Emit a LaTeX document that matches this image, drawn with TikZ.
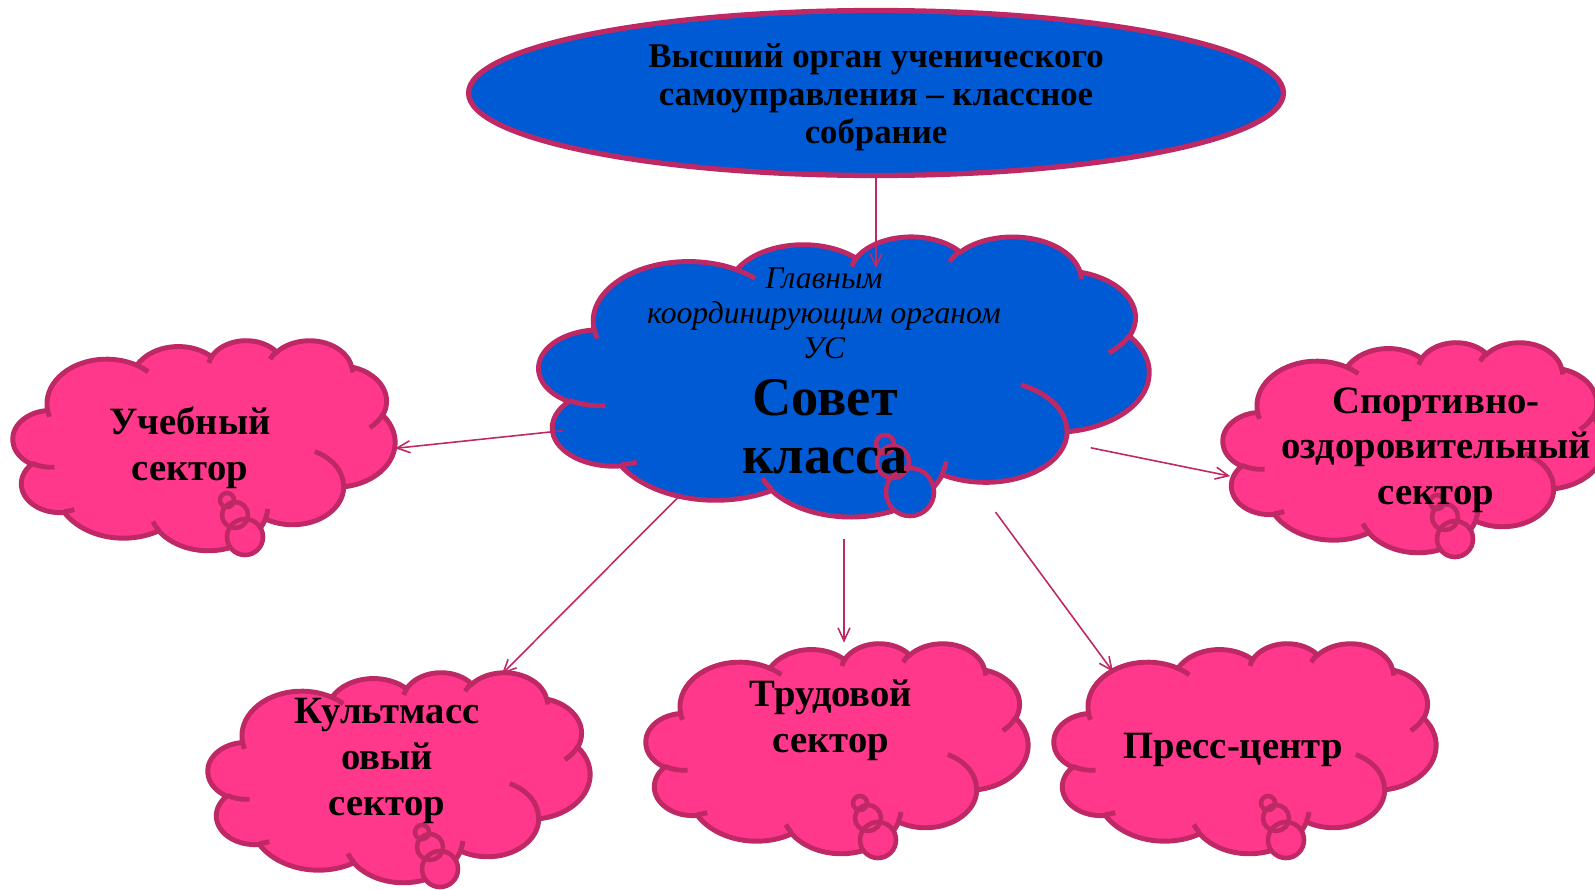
\documentclass[tikz,border=0pt]{standalone}
\usepackage{fontspec}
\setmainfont{Liberation Serif}
\usetikzlibrary{arrows.meta,positioning,calc,shapes.geometric}

\definecolor{boardblue}{RGB}{0,90,212}
\definecolor{rimred}{RGB}{190,40,100}
\definecolor{sectorpink}{RGB}{255,56,140}

% one lobe of the cloud: x radius, y radius, start and sweep (visual angles)
\newcommand{\lobe}[4]{arc[x radius=#1, y radius=#2,
    start angle={atan2(#1*sin(#3), #2*cos(#3))},
    delta angle={mod(atan2(#1*sin(#3+#4), #2*cos(#3+#4))-atan2(#1*sin(#3), #2*cos(#3))+720, 360)}]}

% cloud outline round node #1, width #2, height #3 (px), fill #4
\newcommand{\puffcloud}[4]{%
  \begin{scope}[shift={(#1.center)}, xscale=#2/43.2, yscale=#3/43.2, shift={(-21.6,-21.6)}]
    \filldraw[cloudrim, fill=#4] (3.900,14.370)
        \lobe{6.753}{9.190}{-190.487}{123.781}
        \lobe{5.333}{7.267}{-144.102}{89.945}
        \lobe{4.365}{5.945}{-145.808}{99.723}
        \lobe{4.857}{6.595}{-130.986}{117.242}
        \lobe{5.333}{7.273}{-78.709}{109.027}
        \lobe{6.775}{9.220}{-46.267}{130.269}
        \lobe{5.785}{7.867}{0.625}{114.033}
        \lobe{6.752}{9.215}{22.452}{115.173}
        \lobe{7.720}{10.543}{66.243}{75.711}
        \lobe{4.360}{5.918}{-274.942}{146.736}
        \lobe{4.345}{5.945}{-246.829}{152.519}
        -- cycle;
  \end{scope}}

% inner creases of the same cloud
\newcommand{\puffcreases}[3]{%
  \begin{scope}[shift={(#1.center)}, xscale=#2/43.2, yscale=#3/43.2, shift={(-21.6,-21.6)}]
    \draw[cloudrim]
        (4.693,26.177) \lobe{4.345}{5.945}{86.742}{26.430}
        (6.928,34.899) \lobe{4.360}{5.918}{73.611}{11.448}
        (16.478,39.090) \lobe{6.752}{9.215}{137.624}{14.081}
        (28.827,34.751) \lobe{6.752}{9.215}{6.453}{15.998}
        (34.129,22.954) \lobe{5.785}{7.867}{-70.292}{70.917}
        (41.798,15.354) \lobe{5.333}{7.273}{30.318}{27.752}
        (38.324,5.426) \lobe{4.857}{6.595}{-13.744}{14.859}
        (29.078,3.952) \lobe{4.857}{6.595}{-149.182}{18.195}
        (22.141,4.720) \lobe{4.365}{5.945}{-163.494}{17.686}
        (14.000,5.192) \lobe{6.753}{9.190}{-66.707}{12.319}
        (4.127,15.789) \lobe{6.753}{9.190}{157.654}{11.858};
  \end{scope}}

\begin{document}
\begin{tikzpicture}[
    x=0.02cm, y=-0.02cm,
    % top oval and cloud places
    assembly/.style={ellipse, draw=rimred, fill=boardblue, line width=3pt,
        minimum width=16.3cm, minimum height=3.3cm, inner sep=0pt},
    council/.style={ellipse, inner sep=0pt, minimum width=12.2cm, minimum height=5.6cm},
    sector/.style={ellipse, inner sep=0pt, minimum width=7.64cm, minimum height=4.2cm},
    cloudrim/.style={draw=rimred, line width=2.8pt},
    % texts
    toptext/.style={align=center, font=\bfseries\fontsize{19.8}{21.6}\selectfont},
    captext/.style={align=center, font=\itshape\fontsize{18}{20}\selectfont},
    titletext/.style={align=center, font=\bfseries\fontsize{31}{33}\selectfont},
    sectortext/.style={align=center, font=\bfseries\fontsize{22}{26}\selectfont},
    bubble/.style={draw=rimred, line width=2.6pt},
    link/.style={draw=rimred, line width=0.9pt,
        -{Straight Barb[length=2.6mm, width=2.4mm]}}
]
\useasboundingbox (0,0) rectangle (1595,889);

% top oval
\node[assembly] (top) at (876,93) {};
\node[toptext] (top-t) at (876,97)
    {Высший орган ученического\\самоуправления -- классное\\собрание};

% council cloud
\node[council] (sovet) at (844,376) {};
\puffcloud{sovet}{610}{280}{boardblue}
\foreach \dx/\dy/\r in {41/68/9, 49/86/16, 66/116/24}
    \fill[boardblue] ($(sovet)+(\dx,\dy)$) circle[radius=\r];
\foreach \dx/\dy/\r in {41/68/9, 49/86/16, 66/116/24}
    \draw[bubble] ($(sovet)+(\dx,\dy)$) circle[radius=\r];
\puffcreases{sovet}{610}{280}
\node[captext] (sovet-cap) at (824,313)
    {Главным\\координирующим органом\\УС};
\node[titletext] (sovet-name) at (825,427) {Совет\\класса};

% sector clouds
\node[sector] (uch) at (204,445) {};
\node[sector] (sport) at (1414,447) {};
\node[sector] (kult) at (399,777) {};
\node[sector] (trud) at (837,748) {};
\node[sector] (press) at (1245,748) {};
\foreach \s in {uch, sport, kult, trud, press} {
    \puffcloud{\s}{382}{210}{sectorpink}
    \foreach \dx/\dy/\r in {23/55/7, 31/70/13, 41/92/18}
        \fill[sectorpink] ($(\s)+(\dx,\dy)$) circle[radius=\r];
    \foreach \dx/\dy/\r in {23/55/7, 31/70/13, 41/92/18}
        \draw[bubble] ($(\s)+(\dx,\dy)$) circle[radius=\r];
    \puffcreases{\s}{382}{210}
}
\node[sectortext] (uch-t) at (190,448) {Учебный\\сектор};
\node[sectortext] (sport-t) at (1436,450) {Спортивно-\\оздоровительный\\сектор};
\node[sectortext] (kult-t) at (387,761) {Культмасс\\овый\\сектор};
\node[sectortext] (trud-t) at (831,720) {Трудовой\\сектор};
\node[sectortext] (press-t) at (1233,750) {Пресс-центр};

% links
\draw[link, shorten >=-0.14cm] (top.south) -- (top.south |- sovet-cap.north);
\draw[link] (sovet.191) -- (uch.-1);
\draw[link, shorten <=-0.25cm] (sovet.-16) -- (sport.189);
\draw[link, shorten >=0.3cm] (sovet.216) -- (kult.45);
\draw[link, shorten <=0.46cm] (sovet.south) -- (sovet.south |- trud.north);
\draw[link, shorten <=0.3cm] (sovet.-41) -- (press.150);

\end{tikzpicture}
\end{document}
